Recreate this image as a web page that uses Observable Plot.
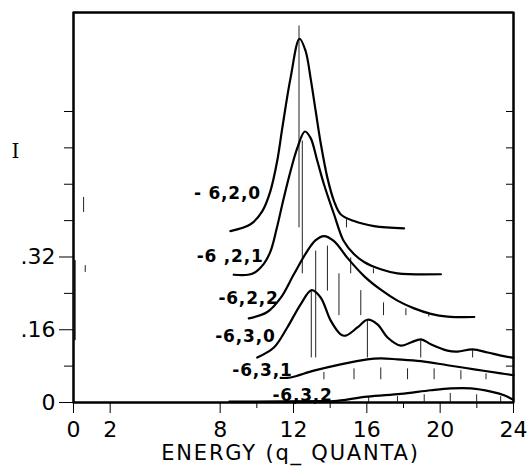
<!DOCTYPE html>
<html><head><meta charset="utf-8">
<script src="https://cdn.jsdelivr.net/npm/d3@7"></script>
<script src="https://cdn.jsdelivr.net/npm/@observablehq/plot@0.6"></script>
<style>body{margin:0;background:#fff} svg{display:block}</style>
</head><body><div id="chart"></div>
<script>
// Spectra labels (top to bottom)
const seriesNames = ["- 6,2,0", "-6 ,2,1", "-6,2,2", "-6,3,0", "-6,3,1", "-6,3,2"];

// Envelope curves: energy (q_ quanta) and intensity I (vertically offset as plotted)
const energy620 = [8.56, 9.66, 10.30, 10.74, 11.11, 11.39, 11.84, 12.33, 12.66, 12.93, 13.21, 13.49, 13.85, 14.21, 14.57, 15.30, 16.39, 18.03];
const inten620  = [0.377, 0.392, 0.421, 0.465, 0.531, 0.604, 0.714, 0.800, 0.773, 0.714, 0.641, 0.569, 0.494, 0.443, 0.414, 0.399, 0.388, 0.383];

const energy621 = [8.74, 9.75, 10.38, 10.75, 11.08, 11.46, 11.84, 12.21, 12.62, 12.93, 13.30, 13.66, 14.21, 14.74, 15.28, 15.85, 16.76, 17.67, 20.04];
const inten621  = [0.281, 0.283, 0.305, 0.333, 0.382, 0.448, 0.509, 0.560, 0.596, 0.582, 0.531, 0.480, 0.414, 0.355, 0.327, 0.309, 0.293, 0.284, 0.282];

const energy622 = [9.56, 10.57, 11.30, 12.02, 12.75, 13.21, 13.66, 14.21, 14.94, 15.85, 16.76, 17.67, 18.58, 19.49, 20.40, 21.86];
const inten622  = [0.185, 0.199, 0.230, 0.282, 0.333, 0.357, 0.366, 0.355, 0.318, 0.278, 0.248, 0.224, 0.207, 0.195, 0.189, 0.188];

const energy630 = [10.02, 10.93, 11.66, 12.39, 12.99, 13.48, 14.03, 14.57, 14.85, 15.49, 16.03, 16.58, 17.13, 17.85, 18.40, 18.95, 19.49, 20.40, 20.95, 21.77, 22.59, 23.32, 24.0];
const inten630  = [0.099, 0.121, 0.165, 0.216, 0.247, 0.231, 0.180, 0.150, 0.147, 0.165, 0.182, 0.172, 0.143, 0.125, 0.132, 0.139, 0.128, 0.114, 0.112, 0.117, 0.110, 0.103, 0.098];

const energy631 = [11.30, 11.84, 13.11, 14.57, 16.03, 16.76, 17.67, 18.95, 20.40, 21.86, 23.32, 24.0];
const inten631  = [0.054, 0.055, 0.070, 0.084, 0.095, 0.097, 0.095, 0.091, 0.082, 0.073, 0.064, 0.060];

const energy632 = [8.5, 9.5, 13.5, 14.21, 16.03, 17.85, 19.49, 20.58, 21.68, 22.77, 23.49, 24.0];
const inten632  = [0.002, 0.002, 0.003, 0.003, 0.013, 0.019, 0.027, 0.031, 0.031, 0.024, 0.016, 0.006];

// Stick spectrum lines: energy, lower and upper intensity
const stickEnergy = [12.30, 14.89, 12.48, 13.21, 12.97, 13.85, 15.12, 16.36, 14.48, 15.67, 16.91, 18.13, 19.38, 16.03, 18.94, 21.77,
                     13.66, 15.30, 16.76, 18.22, 19.67, 21.13, 22.50,
                     16.10, 17.67, 19.13, 20.55, 21.99, 23.30,
                     0.55, 0.64];
const stickLow    = [0.384, 0.384, 0.283, 0.098, 0.098, 0.245, 0.283, 0.283, 0.191, 0.191, 0.191, 0.191, 0.188, 0.098, 0.098, 0.098,
                     0.050, 0.050, 0.050, 0.050, 0.050, 0.050, 0.050,
                     0, 0, 0, 0, 0, 0,
                     0.418, 0.286];
const stickHigh   = [0.828, 0.406, 0.575, 0.333, 0.245, 0.344, 0.318, 0.294, 0.283, 0.246, 0.219, 0.206, 0.195, 0.180, 0.136, 0.114,
                     0.066, 0.074, 0.076, 0.074, 0.074, 0.070, 0.063,
                     0.012, 0.013, 0.017, 0.020, 0.017, 0.013,
                     0.451, 0.301];
// heavy mark along the I axis
const axisStickEnergy = [0.05];
const axisStickLow = [0.136];
const axisStickHigh = [0.312];

// Label anchor points (right end of each label)
const labelEnergy = [10.22, 10.37, 11.19, 11.02, 11.95, 14.14];
const labelInten  = [0.459, 0.322, 0.228, 0.144, 0.070, 0.015];

// Axes
const xDomain = [0, 24];
const yDomain = [0, 0.8577];
const xMajorTicks = [0, 2, 8, 12, 16, 20, 24];
const xMinorTicks = [10, 14, 18, 22];
const yLabeledTicks = [0, 0.16, 0.32];
const yTicks = [0.08, 0.24, 0.40, 0.48, 0.56, 0.64];
const yAllTicks = [0.08, 0.16, 0.24, 0.32, 0.40, 0.48, 0.56, 0.64];
const xTitle = "ENERGY (q_ QUANTA)";
const yTitle = "I";
const yTitlePos = 0.552;

// Build tables
const curveEs = [energy620, energy621, energy622, energy630, energy631, energy632];
const curveIs = [inten620, inten621, inten622, inten630, inten631, inten632];
const curves = [];
seriesNames.forEach((n, k) => curveEs[k].forEach((e, i) => curves.push({name: n, E: e, I: curveIs[k][i]})));
const sticks = stickEnergy.map((e, i) => ({E: e, lo: stickLow[i], hi: stickHigh[i]}));
const axisSticks = axisStickEnergy.map((e, i) => ({E: e, lo: axisStickLow[i], hi: axisStickHigh[i]}));
const labels = seriesNames.map((n, i) => ({name: n, E: labelEnergy[i], I: labelInten[i]}));

const blank = () => "";
const chart = Plot.plot({
  width: 528, height: 470,
  marginTop: 12, marginBottom: 68, marginLeft: 73, marginRight: 15,
  style: {fontFamily: "DejaVu Sans"},
  x: {domain: xDomain, axis: null},
  y: {domain: yDomain, axis: null},
  marks: [
    Plot.frame({stroke: "black", strokeWidth: 2}),
    Plot.ruleX(xDomain, {stroke: "black", strokeWidth: 2}),
    Plot.ruleY(yDomain, {stroke: "black", strokeWidth: 2}),
    Plot.ruleX(sticks, {x: "E", y1: "lo", y2: "hi", stroke: "#222", strokeWidth: 1}),
    Plot.ruleX(axisSticks, {x: "E", y1: "lo", y2: "hi", stroke: "#111", strokeWidth: 2.5}),
    Plot.line(curves, {x: "E", y: "I", z: "name", curve: "catmull-rom", stroke: "black", strokeWidth: 2.2}),
    Plot.text(labels, {x: "E", y: "I", text: "name", textAnchor: "end", fontSize: 17, fontWeight: "bold", fill: "black"}),
    Plot.axisX(xMajorTicks, {label: null, tickSize: 11, tickPadding: 8, fontSize: 22, tickFormat: d => String(d)}),
    Plot.axisX(xMinorTicks, {label: null, tickSize: 6, tickFormat: blank}),
    Plot.axisY(yLabeledTicks, {label: null, anchor: "left", tickSize: 14, tickPadding: 4, fontSize: 22,
      tickFormat: d => d === 0 ? "0" : d3.format(".2f")(d).slice(1)}),
    Plot.axisY(yTicks, {label: null, anchor: "left", tickSize: 9, tickFormat: blank}),
    Plot.axisY(yAllTicks, {label: null, anchor: "right", tickSize: 8, dx: -8, tickFormat: blank}),
    Plot.text([yTitle], {frameAnchor: "left", y: [yTitlePos], dx: -62, fontSize: 20, fontFamily: "DejaVu Serif", fill: "black"}),
    Plot.text([xTitle], {frameAnchor: "bottom", dy: 57, dx: -3, fontSize: 21, fill: "black"})
  ]
});
d3.select(chart).selectAll("text").filter(function(){ return this.textContent === xTitle; }).attr("letter-spacing", "1.8px");
d3.select(chart).selectAll("text").filter(function(){ return seriesNames.includes(this.textContent); }).attr("letter-spacing", "0.8px");
document.getElementById("chart").appendChild(chart);
</script>
</body></html>
